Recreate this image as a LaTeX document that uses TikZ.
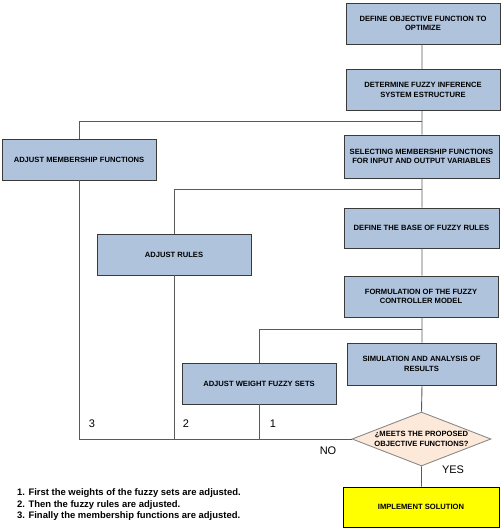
\documentclass[tikz,border=0pt]{standalone}
\usepackage{fontspec}
\setmainfont{Liberation Sans}
\usetikzlibrary{calc,positioning,shapes.geometric}
\definecolor{color_box_fill}{HTML}{B0C3DD}
\definecolor{color_box_line}{HTML}{3A3A3A}
\definecolor{color_link}{HTML}{5A5A5A}
\definecolor{color_diamond_fill}{HTML}{FDE9DA}
\definecolor{color_diamond_line}{HTML}{8A8A8A}
\definecolor{color_solution}{HTML}{FFFF00}

\tikzset{
	stagebox/.style={draw=color_box_line,line width=0.9pt,fill=color_box_fill,
		minimum width=154pt,minimum height=41pt,inner sep=1pt,align=center,
		font=\fontsize{7.6}{9.3}\selectfont\bfseries},
	link/.style={draw=color_link,line width=0.9pt},
	looplabel/.style={font=\fontsize{11}{13}\selectfont,inner sep=0pt},
}

\begin{document}
\begin{tikzpicture}[x=1pt,y=-1pt]
				\useasboundingbox (0, 0) rectangle (503, 529);
				% Main column
				\node[stagebox] (objective) at (423, 23.5) {DEFINE OBJECTIVE FUNCTION TO\\OPTIMIZE};
				\node[stagebox] (structure) at (423, 90) {DETERMINE FUZZY INFERENCE\\SYSTEM ESTRUCTURE};
				\node[stagebox,minimum width=155pt,minimum height=43pt] (membership) at (421.5, 156.5) {SELECTING MEMBERSHIP FUNCTIONS\\FOR INPUT AND OUTPUT VARIABLES};
				\node[stagebox,minimum width=155pt,minimum height=40pt] (rulebase) at (421.5, 228) {DEFINE THE BASE OF FUZZY RULES};
				\node[stagebox] (model) at (421, 296.5) {FORMULATION OF THE FUZZY\\CONTROLLER MODEL};
				\node[stagebox,minimum width=149pt,minimum height=42pt] (simulation) at (421.5, 364) {SIMULATION AND ANALYSIS OF\\RESULTS};
				\node[diamond,draw=color_diamond_line,line width=0.9pt,fill=color_diamond_fill,
					minimum width=139pt,minimum height=54pt,inner sep=0pt,align=center,aspect=2.6,
					font=\fontsize{7.6}{9.3}\selectfont\bfseries] (meets) at (421.5, 439)
					{¿MEETS THE PROPOSED\\OBJECTIVE FUNCTIONS?};
				\node[stagebox,fill=color_solution,draw=black,minimum width=156pt,minimum height=40pt] (solution) at (421, 507) {IMPLEMENT SOLUTION};

				% Adjust boxes
				\node[stagebox] (adjmembership) at (79, 159.5) {ADJUST MEMBERSHIP FUNCTIONS};
				\node[stagebox] (adjrules) at (174, 254.5) {ADJUST RULES};
				\node[stagebox] (adjweights) at (259, 383.5) {ADJUST WEIGHT FUZZY SETS};

				% Branch points
				\coordinate (BranchM) at (422, 121);
				\coordinate (BranchR) at (422, 189);
				\coordinate (BranchW) at (422, 329);

				% Main links
				\draw[link]
					(objective.south -| BranchM) -- (structure.north -| BranchM)
					(structure.south -| BranchM) -- (membership.north -| BranchM)
					(membership.south -| BranchM) -- (rulebase.north -| BranchM)
					(rulebase.south -| BranchM) -- (model.north -| BranchM)
					(model.south -| BranchM) -- (simulation.north -| BranchM)
					(simulation.south -| BranchM) -- (meets.north)
					(meets.south) -- (solution.north -| meets.south)
					;

				% Loop back links
				\draw[link]
					(BranchM) -| (adjmembership.north)
					(BranchR) -| (adjrules.north)
					(BranchW) -| (adjweights.north)
					(meets.west) -| (adjmembership.south)
					(adjrules.south) -- (adjrules.south |- meets.west)
					(adjweights.south) -- (adjweights.south |- meets.west)
					;

				% Labels
				\node[looplabel] (labelthree) at (92, 424) {3};
				\node[looplabel] (labeltwo) at (186, 424) {2};
				\node[looplabel] (labelone) at (273, 424) {1};
				\node[looplabel] (labelno) at (328, 451) {NO};
				\node[looplabel] (labelyes) at (453, 470) {YES};

				% Notes
				\node[anchor=north west,align=left,inner sep=0pt,
					font=\fontsize{9.45}{11.6}\selectfont\bfseries] (notes) at (17, 488.5)
					{1. First the weights of the fuzzy sets are adjusted.\\
					2. Then the fuzzy rules are adjusted.\\
					3. Finally the membership functions are adjusted.};
			\end{tikzpicture}
\end{document}
